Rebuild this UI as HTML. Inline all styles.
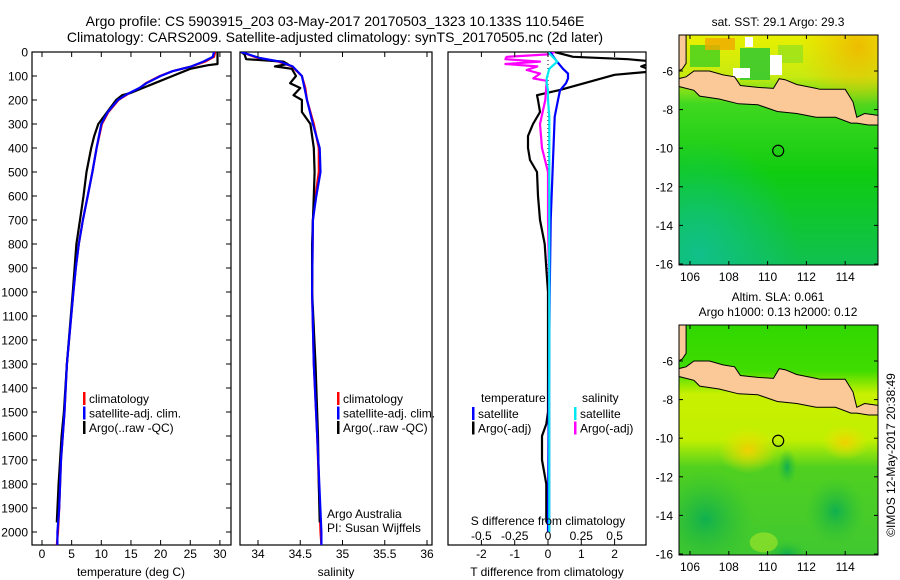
<!DOCTYPE html>
<html><head><meta charset="utf-8"><style>
html,body{margin:0;padding:0;background:#fff;}
svg{display:block;font-family:"Liberation Sans",sans-serif;}
text{fill:#000;}
</style></head><body>
<svg id="chart" width="900" height="580" viewBox="0 0 900 580" xmlns="http://www.w3.org/2000/svg">
<defs>
<clipPath id="c1"><rect x="32" y="52" width="199" height="493"/></clipPath>
<clipPath id="c2"><rect x="240" y="52" width="192" height="493"/></clipPath>
<clipPath id="c3"><rect x="448" y="52" width="198" height="493"/></clipPath>
<clipPath id="cm1"><rect x="679" y="35" width="199" height="230"/></clipPath>
<clipPath id="cm2"><rect x="679" y="325" width="199" height="230"/></clipPath>
<linearGradient id="g1" x1="0" y1="0" x2="0" y2="1">
<stop offset="0" stop-color="#e8f000"/><stop offset="0.18" stop-color="#c8ea10"/><stop offset="0.3" stop-color="#40d820"/><stop offset="0.6" stop-color="#10cc10"/><stop offset="1" stop-color="#10c050"/></linearGradient>
<radialGradient id="g1t" cx="0.1" cy="0.95" r="0.5"><stop offset="0" stop-color="#10c090" stop-opacity="0.9"/><stop offset="1" stop-color="#10c090" stop-opacity="0"/></radialGradient>
<radialGradient id="g1o" cx="0.9" cy="0.05" r="0.3"><stop offset="0" stop-color="#f0b000" stop-opacity="0.8"/><stop offset="1" stop-color="#f0c000" stop-opacity="0"/></radialGradient>
<linearGradient id="g2" x1="0" y1="0" x2="0" y2="1">
<stop offset="0" stop-color="#30d800"/><stop offset="0.2" stop-color="#40dc00"/><stop offset="0.3" stop-color="#c8f000"/><stop offset="0.5" stop-color="#c0f000"/><stop offset="0.62" stop-color="#50d020"/><stop offset="1" stop-color="#40c830"/></linearGradient>
<radialGradient id="g2o" cx="0.5" cy="0.5" r="0.5"><stop offset="0" stop-color="#f0d000"/><stop offset="1" stop-color="#e8e800" stop-opacity="0"/></radialGradient>
<radialGradient id="g2g" cx="0.5" cy="0.5" r="0.5"><stop offset="0" stop-color="#10b050"/><stop offset="1" stop-color="#30c030" stop-opacity="0"/></radialGradient>
</defs>
<g id="root"></g>
</svg>
<script>
// ---- data ----
var tClimDepth=[0,20,40,60,80,100,130,150,175,200,250,300,400,500,600,700,800,900,1000,1300,1500,1700,1900,2000,2055];
var tClim=[29.2,29.0,27.5,25.2,22.0,19.9,17.5,16.5,14.5,12.9,11.2,10.1,9.2,8.5,7.7,6.9,6.2,5.7,5.3,4.2,3.8,3.2,2.9,2.7,2.5];
var tSat=[29.0,28.8,27.2,25.2,22.0,20.0,17.6,16.4,14.4,12.8,11.1,10.0,9.2,8.5,7.7,6.9,6.2,5.7,5.3,4.2,3.8,3.2,2.9,2.6,2.6];
var tArgoDepth=[0,50,55,70,100,130,150,170,180,200,250,300,350,400,500,600,700,800,900,1000,1300,1500,1600,1800,1960];
var tArgo=[29.6,29.6,28.0,25.0,22.0,19.0,17.0,15.0,13.5,12.5,11.0,9.5,8.8,8.3,7.5,7.0,6.4,5.8,5.5,5.2,4.2,3.7,3.3,2.8,2.5];
var sDepth=[0,25,40,60,100,150,200,300,400,500,600,700,1000,1300,1600,2000,2055];
var sClim=[33.8,34.0,34.24,34.4,34.52,34.56,34.58,34.66,34.72,34.72,34.68,34.65,34.64,34.66,34.70,34.74,34.75];
var sSat=[33.8,34.02,34.26,34.41,34.52,34.55,34.58,34.65,34.73,34.74,34.69,34.65,34.64,34.66,34.70,34.75,34.75];
var sArgoDepth=[0,10,30,40,50,60,70,100,130,150,180,200,250,300,400,500,600,800,1000,1300,1600,1800,1960];
var sArgo=[33.8,33.84,33.86,34.3,34.35,34.2,34.4,34.45,34.38,34.5,34.42,34.52,34.52,34.62,34.66,34.67,34.66,34.64,34.64,34.68,34.71,34.72,34.73];
var dDepth=[0,40,70,90,110,130,160,200,270,450,700,1000,1500,2000];
var dTSat=[0.06,0.27,0.45,0.6,0.6,0.54,0.36,0.3,0.2,0.15,0.08,0.05,0.02,0.0];
var dSSat=[0,0.07,0.01,0.0,-0.01,-0.01,0.0,0.0,0.01,0.01,0.01,0.01,0.01,0.01];
var dTArgoDepth=[0,20,30,40,60,80,95,158,180,200,250,300,350,400,450,500,600,700,800,900,1000,1500,1550,1600,1700,1800,1960];
var dTArgo=[0.2,0.75,2.4,3.2,2.8,3.2,2.0,0.36,-0.33,-0.3,-0.24,-0.45,-0.6,-0.6,-0.54,-0.33,-0.3,-0.24,-0.1,-0.05,0,0,-0.05,-0.18,-0.18,-0.05,-0.05];
var dSArgoDepth=[0,10,20,30,40,50,60,75,90,110,120,200,300,400,500,700,1000,2000];
var dSArgo=[0.05,0.0,-0.31,-0.32,-0.06,-0.32,-0.08,-0.16,-0.06,-0.11,-0.01,-0.02,-0.06,-0.045,0,0,0.01,0.01];
var depthTicks=[0,100,200,300,400,500,600,700,800,900,1000,1100,1200,1300,1400,1500,1600,1700,1800,1900,2000];
var tTicks=[0,5,10,15,20,25,30];
var sTicks=[34,34.5,35,35.5,36];
var sTickLabels=["34","34.5","35","35.5","36"];
var dTTicks=[-2,-1,0,1,2];
var dSTicks=[-0.5,-0.25,0,0.25,0.5];
var dSTickLabels=["-0.5","-0.25","0","0.25","0.5"];
var lonTicks=[106,108,110,112,114];
var latTicks=[-6,-8,-10,-12,-14,-16];
var argoLon=110.546, argoLat=-10.133;

// ---- scales ----
function yD(d){return 52+d*0.24;}
function xT(t){return 42+t*5.93;}
function xS(s){return 258+(s-34)*84.5;}
function xDT(v){return 548+v*33.3;}
function xDS(v){return 548+v*133.2;}
function mX(lon){return 690+(lon-106)*19.4;}
function mY(lat,off){return 71+off+(-6-lat)*19.3;}

var NS="http://www.w3.org/2000/svg";
var root=document.getElementById('root');
function el(tag,attrs,parent,txt){var e=document.createElementNS(NS,tag);for(var k in attrs)e.setAttribute(k,attrs[k]);if(txt!==undefined)e.textContent=txt;(parent||root).appendChild(e);return e;}
function txt(x,y,s,anchor,size,parent){var t=el('text',{x:x,y:y,'text-anchor':anchor||'start','font-size':size||12},parent,s);return t;}
function line(xs,ys,color,parent,w){var p=[];for(var i=0;i<xs.length;i++)p.push(xs[i].toFixed(1)+','+ys[i].toFixed(1));return el('polyline',{points:p.join(' '),fill:'none',stroke:color,'stroke-width':w||2.2,'stroke-linejoin':'round'},parent);}

// titles
var t1=txt(335,26,'Argo profile: CS 5903915_203 03-May-2017 20170503_1323 10.133S 110.546E','middle',14);


var t2=txt(335,42,'Climatology: CARS2009. Satellite-adjusted climatology: synTS_20170505.nc (2d later)','middle',14);



function panel(name,x0,x1,clip){
  var g=el('g',{});
  
  
  el('rect',{x:x0,y:52,width:x1-x0,height:493,fill:'#fff',stroke:'#000','stroke-width':1.2},g);
  var d=el('g',{'clip-path':'url(#'+clip+')'},g);
  return {g:g,d:d};
}
function xTicks(g,vals,labels,fx,ly){
  for(var i=0;i<vals.length;i++){var x=fx(vals[i]);
    el('line',{x1:x,x2:x,y1:545,y2:540,stroke:'#000'},g);
    el('line',{x1:x,x2:x,y1:52,y2:57,stroke:'#000'},g);
    var t=txt(x,ly,labels[i],'middle',12,g);
    
    }
}
function yd(arr){return arr.map(yD);}

// panel 1
var p1=panel('temperature-panel',32,231,'c1');
for(var i=0;i<depthTicks.length;i++){var y=yD(depthTicks[i]);
  el('line',{x1:32,x2:37,y1:y,y2:y,stroke:'#000'},p1.g);el('line',{x1:231,x2:226,y1:y,y2:y,stroke:'#000'},p1.g);
  var tl=txt(28,y+4.5,String(depthTicks[i]),'end',12,p1.g);
  
  }
xTicks(p1.g,tTicks,tTicks.map(String),xT,558);
var l;
l=line(tClim.map(xT),yd(tClimDepth),'#ff0000',p1.d);
l=line(tArgo.map(xT),yd(tArgoDepth),'#000000',p1.d);
l=line(tSat.map(xT),yd(tClimDepth),'#0000ff',p1.d);
var xt=txt(131,576,'temperature (deg C)','middle',12,p1.g);

function legend(g,x,y0,items){
  for(var i=0;i<items.length;i++){var y=y0+i*14.5;
    el('rect',{x:x,y:y-6,width:2.5,height:13,fill:items[i][1]},g);
    var t=txt(x+6,y+5,items[i][0],'start',12,g);
    
    }
}
legend(p1.g,83,398,[['climatology','#ff0000'],['satellite-adj. clim.','#0000ff'],['Argo(..raw -QC)','#000']]);

// panel 2
var p2=panel('salinity-panel',240,432,'c2');
xTicks(p2.g,sTicks,sTickLabels,xS,558);
l=line(sClim.map(xS),yd(sDepth),'#ff0000',p2.d);
l=line(sArgo.map(xS),yd(sArgoDepth),'#000000',p2.d);
l=line(sSat.map(xS),yd(sDepth),'#0000ff',p2.d);
xt=txt(336,576,'salinity','middle',12,p2.g);
legend(p2.g,337,398,[['climatology','#ff0000'],['satellite-adj. clim.','#0000ff'],['Argo(..raw -QC)','#000']]);
var a1=txt(327,518,'Argo Australia','start',12,p2.g);
var a2=txt(327,532,'PI: Susan Wijffels','start',12,p2.g);

// panel 3
var p3=panel('difference-panel',448,646,'c3');
xTicks(p3.g,dTTicks,dTTicks.map(String),xDT,558);
for(var i=0;i<dSTicks.length;i++){var t=txt(xDS(dSTicks[i]),540,dSTickLabels[i],'middle',12,p3.g);
  
  }
var sd=txt(548,525,'S difference from climatology','middle',12,p3.g);
xt=txt(547,576,'T difference from climatology','middle',12,p3.g);
var z=el('line',{x1:548,x2:548,y1:yD(0),y2:yD(2000),stroke:'#000','stroke-dasharray':'1,3'},p3.d);
l=line(dTArgo.map(xDT),yd(dTArgoDepth),'#000',p3.d);
l=line(dSArgo.map(xDS),yd(dSArgoDepth),'#ff00ff',p3.d);
l=line(dTSat.map(xDT),yd(dDepth),'#0000ff',p3.d);
l=line(dSSat.map(xDS),yd(dDepth),'#00e8f0',p3.d);
var lt=txt(481,402,'temperature','start',12,p3.g);
var ls=txt(582,402,'salinity','start',12,p3.g);
legend(p3.g,472,413,[['satellite','#0000ff'],['Argo(-adj)','#000']]);
legend(p3.g,574,413,[['satellite','#00e8f0'],['Argo(-adj)','#ff00ff']]);

// maps
var sumatra=[[105.4,-4.1],[105.8,-4.1],[105.8,-5.6],[105.6,-5.9],[105.4,-6.0]];
var java=[[105.4,-6.4],[105.8,-6.3],[106.2,-6.0],[107,-6.0],[107.7,-6.2],[108.3,-6.3],[108.6,-6.75],[109.5,-6.85],[110.3,-6.9],[110.6,-6.4],[110.9,-6.45],[111.5,-6.7],[112.5,-6.9],[112.7,-6.95],[114.0,-6.95],[114.4,-7.6],[114.5,-8.0],[114.6,-8.4],[115.0,-8.2],[115.7,-8.3],[115.7,-8.8],[115.2,-8.8],[114.6,-8.7],[114.3,-8.7],[113.5,-8.4],[112.5,-8.4],[111.5,-8.2],[110.5,-8.1],[109.5,-7.75],[108.5,-7.7],[107.5,-7.45],[106.5,-7.3],[106.2,-7.0],[105.4,-6.8]];
function map(name,off,clip,fillFn){
  var g=el('g',{});
  
  
  var d=el('g',{'clip-path':'url(#'+clip+')'},g);
  fillFn(d,off);
  [sumatra,java].forEach(function(poly){
    var pts=poly.map(function(p){return mX(p[0]).toFixed(1)+','+mY(p[1],off).toFixed(1);}).join(' ');
    var lp=el('polygon',{points:pts,fill:'#fbc898',stroke:'#000','stroke-width':1},d);
    
    
  });
  var c=el('circle',{cx:mX(argoLon),cy:mY(argoLat,off),r:5.5,fill:'none',stroke:'#000','stroke-width':1.2},d);
  
  
  el('rect',{x:679,y:35+off,width:199,height:230,fill:'none',stroke:'#000','stroke-width':1},g);
  for(var i=0;i<lonTicks.length;i++){var x=mX(lonTicks[i]);
    el('line',{x1:x,x2:x,y1:265+off,y2:261+off,stroke:'#000'},g);el('line',{x1:x,x2:x,y1:35+off,y2:39+off,stroke:'#000'},g);
    var t=txt(x,281+off,String(lonTicks[i]),'middle',12,g);
    
    }
  for(var i=0;i<latTicks.length;i++){var y=mY(latTicks[i],off);
    el('line',{x1:679,x2:683,y1:y,y2:y,stroke:'#000'},g);el('line',{x1:878,x2:874,y1:y,y2:y,stroke:'#000'},g);
    var t=txt(673,y+4.5,String(latTicks[i]),'end',12,g);
    
    }
  return g;
}
var m1=map('sst-map',0,'cm1',function(d,off){
  el('rect',{x:679,y:35,width:199,height:230,fill:'url(#g1)'},d);
  el('rect',{x:679,y:35,width:199,height:230,fill:'url(#g1o)'},d);
  el('rect',{x:679,y:35,width:199,height:230,fill:'url(#g1t)'},d);
  el('rect',{x:690,y:45,width:30,height:22,fill:'#40d020',opacity:0.8},d);
  el('rect',{x:740,y:48,width:30,height:32,fill:'#30c830',opacity:0.85},d);
  el('rect',{x:705,y:38,width:30,height:12,fill:'#f0a800',opacity:0.8},d);
  el('rect',{x:778,y:45,width:25,height:18,fill:'#90e020',opacity:0.7},d);
  el('rect',{x:733,y:68,width:17,height:10,fill:'#fff'},d);
  el('rect',{x:770,y:55,width:12,height:20,fill:'#fff'},d);
  el('rect',{x:745,y:37,width:8,height:10,fill:'#fff'},d);
},0);
var m1t=txt(778,26,'sat. SST: 29.1  Argo: 29.3','middle',12);


var m2=map('sla-map',290,'cm2',function(d,off){
  el('rect',{x:679,y:325,width:199,height:230,fill:'url(#g2)'},d);
  el('ellipse',{cx:mX(109),cy:mY(-10.6,off),rx:30,ry:24,fill:'url(#g2o)'},d);
  el('ellipse',{cx:mX(114),cy:mY(-10.2,off),rx:24,ry:18,fill:'url(#g2o)'},d);
  el('ellipse',{cx:mX(106.8),cy:mY(-14.2,off),rx:50,ry:50,fill:'url(#g2g)'},d);
  el('ellipse',{cx:mX(113.5),cy:mY(-13.8,off),rx:30,ry:34,fill:'url(#g2g)'},d);
  el('ellipse',{cx:mX(111),cy:mY(-11.5,off),rx:10,ry:18,fill:'url(#g2g)'},d);
  el('ellipse',{cx:mX(111),cy:mY(-16,off),rx:22,ry:14,fill:'url(#g2g)'},d);
  el('ellipse',{cx:mX(109.8),cy:mY(-15.4,off),rx:14,ry:10,fill:'#a8e828',opacity:0.6},d);
});
var m2a=txt(778,301,'Altim. SLA: 0.061','middle',12);


var m2b=txt(778,316,'Argo h1000: 0.13 h2000: 0.12','middle',12);


var cr=el('text',{x:0,y:0,'font-size':12,'text-anchor':'middle',transform:'translate(895,455) rotate(-90)'},root,'©IMOS 12-May-2017 20:38:49');


</script>
</body></html>
